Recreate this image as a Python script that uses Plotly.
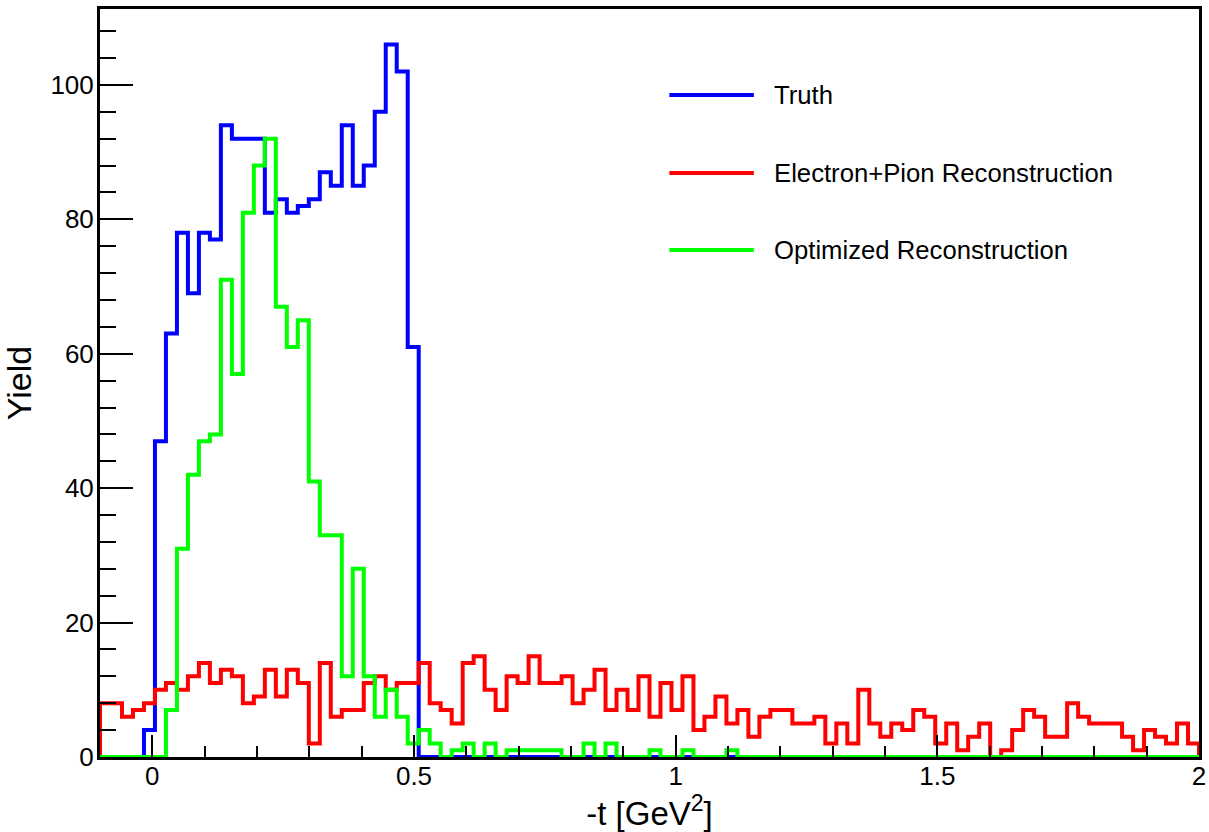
import numpy as np
import plotly.graph_objects as go

# Histogram binning in -t [GeV^2]
T_MIN, T_MAX, N_BINS = -0.1, 2.0, 100

# Bin contents (yield per bin), bins ordered from T_MIN upwards
truth = [
    0, 0, 0, 0, 4, 47, 63, 78, 69, 78,
    77, 94, 92, 92, 92, 81, 83, 81, 82, 83,
    87, 85, 94, 85, 88, 96, 106, 102, 61, 0,
    0, 0, 0, 0, 0, 0, 0, 0, 0, 0,
    0, 0, 0, 0, 0, 0, 0, 0, 0, 0,
    0, 0, 0, 0, 0, 0, 0, 0, 0, 0,
    0, 0, 0, 0, 0, 0, 0, 0, 0, 0,
    0, 0, 0, 0, 0, 0, 0, 0, 0, 0,
    0, 0, 0, 0, 0, 0, 0, 0, 0, 0,
    0, 0, 0, 0, 0, 0, 0, 0, 0, 0,
]

electron_pion = [
    8, 8, 6, 7, 8, 10, 11, 10, 12, 14,
    11, 13, 12, 8, 9, 13, 9, 13, 11, 2,
    14, 6, 7, 7, 11, 12, 10, 11, 11, 14,
    8, 7, 5, 14, 15, 10, 7, 12, 11, 15,
    11, 11, 12, 8, 10, 13, 7, 10, 7, 12,
    6, 11, 7, 12, 4, 6, 9, 5, 7, 3,
    6, 7, 7, 5, 5, 6, 2, 5, 2, 10,
    5, 3, 5, 4, 7, 6, 2, 5, 1, 3,
    5, 0, 1, 4, 7, 6, 3, 3, 8, 6,
    5, 5, 5, 3, 1, 4, 3, 2, 5, 2,
]

optimized = [
    0, 0, 0, 0, 0, 0, 7, 31, 42, 47,
    48, 71, 57, 81, 88, 92, 67, 61, 65, 41,
    33, 33, 12, 28, 12, 6, 10, 6, 2, 4,
    2, 0, 1, 2, 0, 2, 0, 1, 1, 1,
    1, 1, 0, 0, 2, 0, 2, 0, 0, 0,
    1, 0, 0, 1, 0, 0, 0, 1, 0, 0,
    0, 0, 0, 0, 0, 0, 0, 0, 0, 0,
    0, 0, 0, 0, 0, 0, 0, 0, 0, 0,
    0, 0, 0, 0, 0, 0, 0, 0, 0, 0,
    0, 0, 0, 0, 0, 0, 0, 0, 0, 0,
]

series_names = ["Truth", "Electron+Pion Reconstruction", "Optimized Reconstruction"]
series_colors = ["#0000ff", "#ff0000", "#00ff00"]
series_counts = [truth, electron_pion, optimized]

Y_MAX = 111.3
FONT = "Liberation Sans, Arial, Helvetica, sans-serif"

edges = np.linspace(T_MIN, T_MAX, N_BINS + 1)


def outline(counts):
    """Step outline of a histogram, closed down to zero at both ends."""
    counts = np.asarray(counts, dtype=float)
    xs = np.concatenate([[edges[0]], edges, [edges[-1]]])
    ys = np.concatenate([[0.0], counts, [counts[-1], 0.0]])
    return xs, ys


fig = go.Figure()
for name, color, counts in zip(series_names, series_colors, series_counts):
    xs, ys = outline(counts)
    fig.add_trace(go.Scatter(
        x=xs, y=ys, mode="lines", name=name,
        line=dict(color=color, width=4, shape="hv"),
        showlegend=False, hoverinfo="skip",
    ))

# Plot area in pixels
W, H = 1209, 832
L, R, T, B = 100, 3, 9, 75
AX_W = W - L - R
AX_H = H - T - B


def px_x(px):
    return (px - L) / AX_W


def px_y(py):
    return (H - B - py) / AX_H


# Legend: line sample plus label for each series
legend_rows_y = [95, 173, 250]
shapes = []
annotations = []
for name, color, row_y in zip(series_names, series_colors, legend_rows_y):
    shapes.append(dict(
        type="line", xref="paper", yref="paper",
        x0=px_x(673), x1=px_x(758), y0=px_y(row_y), y1=px_y(row_y),
        line=dict(color=color, width=4),
    ))
    annotations.append(dict(
        xref="paper", yref="paper", x=px_x(776), y=px_y(row_y),
        xanchor="left", yanchor="middle", showarrow=False,
        text=name, font=dict(family=FONT, size=25.7, color="black"),
    ))

fig.update_layout(
    width=W, height=H,
    margin=dict(l=L, r=R, t=T, b=B),
    paper_bgcolor="white", plot_bgcolor="white",
    showlegend=False,
    font=dict(family=FONT, color="black"),
    shapes=shapes,
    annotations=annotations,
)

fig.update_xaxes(
    range=[T_MIN, T_MAX], showgrid=False, zeroline=False,
    showline=True, linewidth=3, linecolor="black", mirror=True,
    ticks="inside", ticklen=22, tickwidth=2, tickcolor="black",
    tick0=0, dtick=0.5,
    minor=dict(ticks="inside", ticklen=11, tickwidth=2, tickcolor="black", tick0=0, dtick=0.1),
    tickfont=dict(family=FONT, size=26, color="black"),
    ticklabeloverflow="allow", ticklabelstandoff=-6,
    title=dict(text="-t [GeV<sup>2</sup>]", font=dict(family=FONT, size=33, color="black"), standoff=8),
)

fig.update_yaxes(
    range=[0, Y_MAX], showgrid=False, zeroline=False,
    showline=True, linewidth=3, linecolor="black", mirror=True,
    ticks="inside", ticklen=33, tickwidth=2, tickcolor="black",
    tick0=0, dtick=20,
    minor=dict(ticks="inside", ticklen=16, tickwidth=2, tickcolor="black", tick0=0, dtick=4),
    tickfont=dict(family=FONT, size=26, color="black"),
    ticklabelstandoff=-2,
    title=dict(text="Yield", font=dict(family=FONT, size=34, color="black"), standoff=12),
)

fig.write_html("out.html")
